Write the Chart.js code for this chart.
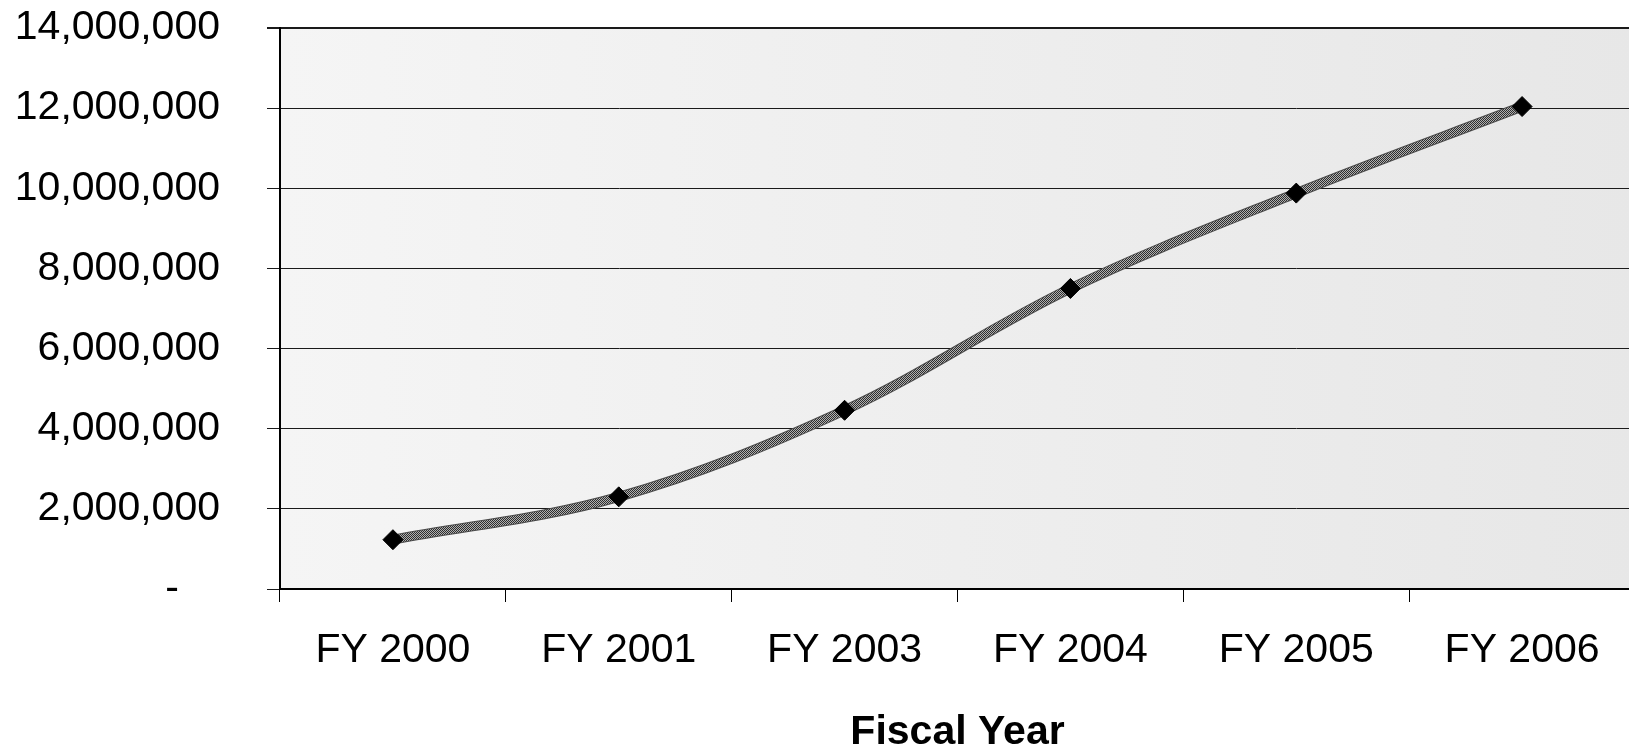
<!DOCTYPE html>
<html>
<head>
<meta charset="utf-8">
<script src="https://cdn.jsdelivr.net/npm/chart.js@4/dist/chart.umd.min.js"></script>
<style>
  html, body { margin: 0; padding: 0; background: #fff; overflow: hidden; }
  #wrap { width: 1646px; height: 747px; }
</style>
</head>
<body>
<div id="wrap"><canvas id="chart"></canvas></div>
<script>
// values
var years = ["FY 2000", "FY 2001", "FY 2003", "FY 2004", "FY 2005", "FY 2006"];
var totals = [1230000, 2300000, 4460000, 7500000, 9880000, 12040000];
var yMin = 0, yMax = 14000000, yStep = 2000000;

var FONT = "'Liberation Sans', Arial, sans-serif";

// hatched grey stroke like the scanned line
function hatch() {
  var c = document.createElement("canvas");
  c.width = 2; c.height = 2;
  var g = c.getContext("2d");
  g.fillStyle = "#b0b0b0"; g.fillRect(0, 0, 2, 2);
  g.fillStyle = "#2e2e2e"; g.fillRect(0, 0, 1, 1); g.fillRect(1, 1, 1, 1);
  return g.createPattern(c, "repeat");
}

var plotBg = {
  id: "plotBg",
  beforeDraw: function(chart) {
    var ctx = chart.ctx, a = chart.chartArea;
    var grd = ctx.createLinearGradient(a.left, 0, a.right, 0);
    grd.addColorStop(0, "#f5f5f5");
    grd.addColorStop(1, "#e7e7e7");
    ctx.save();
    ctx.fillStyle = grd;
    ctx.fillRect(a.left, a.top, a.right - a.left, a.bottom - a.top);
    ctx.restore();
  }
};

window.addEventListener("load", function() {
  new Chart(document.getElementById("chart"), {
    type: "line",
    data: {
      labels: years,
      datasets: [{
        data: totals,
        borderColor: hatch(),
        borderWidth: 8,
        tension: 0.35,
        pointStyle: "rectRot",
        pointRadius: 10,
        pointBackgroundColor: "#000",
        pointBorderColor: "#000",
        pointBorderWidth: 1,
        order: 1
      }, {
        // dark edge under the hatched line
        data: totals,
        borderColor: "#4a4a4a",
        borderWidth: 10,
        tension: 0.35,
        pointRadius: 0,
        order: 2
      }]
    },
    options: {
      responsive: true,
      maintainAspectRatio: false,
      animation: false,
      events: [],
      layout: { padding: { top: 28, left: 0, right: 0, bottom: 0 } },
      plugins: { legend: { display: false }, tooltip: { enabled: false } },
      scales: {
        x: {
          offset: true,
          grid: { offset: true, drawOnChartArea: false, tickLength: 13, color: "#000", lineWidth: 1 },
          border: { color: "#000", width: 2 },
          ticks: { color: "#000", padding: 24, maxRotation: 0, font: { family: FONT, size: 41 } },
          title: {
            display: true, text: "Fiscal Year", color: "#000",
            padding: { top: 0, bottom: 0 },
            font: { family: FONT, size: 41, weight: "bold", lineHeight: 0.7 }
          },
          afterFit: function(s) { s.height = 158; s.paddingLeft = 0; s.paddingRight = 0; }
        },
        y: {
          min: yMin, max: yMax,
          grid: {
            color: "#1a1a1a",
            lineWidth: function(c) { return c.tick && c.tick.value === yMax ? 2 : 1; },
            tickLength: 13
          },
          border: { color: "#000", width: 2 },
          ticks: {
            stepSize: yStep, color: "#000", padding: 47,
            font: { family: FONT, size: 41 },
            callback: function(v) { return v === 0 ? "-\u2002\u2002" : v.toLocaleString("en-US"); }
          },
          afterFit: function(s) { s.width = 280; s.paddingTop = 0; s.paddingBottom = 0; }
        }
      }
    },
    plugins: [plotBg]
  });
});
</script>
</body>
</html>
